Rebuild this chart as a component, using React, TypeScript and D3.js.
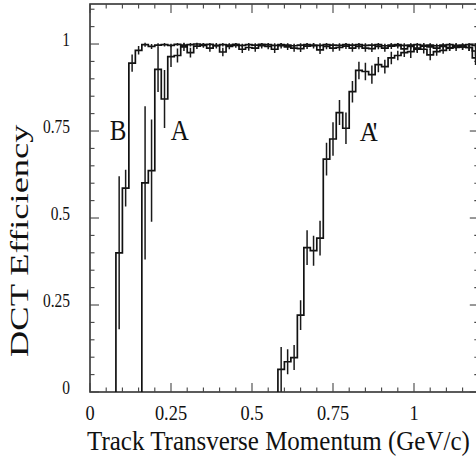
import React from 'react';
import * as d3 from 'd3';

const BIN_WIDTH = 0.02;

// Curve B (bins start at 0.08 GeV/c)
const bStart = 0.08;
const bValues = [
  0.400, 0.586, 0.945, 0.982, 0.998, 0.993, 0.997, 0.998, 0.996, 0.999,
  0.997, 0.998, 1.000, 0.998, 0.999, 0.996, 0.998, 0.997, 0.999, 0.996,
  0.998, 0.997, 0.999, 0.998, 0.996, 0.998, 0.997, 0.995, 0.997, 0.998,
  0.997, 0.996, 0.998, 0.997, 0.996, 0.998, 0.997, 0.998, 0.996, 0.997,
  0.998, 0.995, 0.997, 0.998, 0.996, 0.997, 0.998, 0.996, 0.997, 0.995,
  0.997, 0.998, 0.996, 0.997, 0.998, 0.996,
];
const bErrors = [
  0.220, 0.053, 0.025, 0.012, 0.006, 0.007, 0.005, 0.005, 0.005, 0.004,
  0.005, 0.005, 0.004, 0.005, 0.004, 0.005, 0.005, 0.005, 0.004, 0.005,
  0.005, 0.005, 0.004, 0.005, 0.006, 0.005, 0.005, 0.006, 0.005, 0.005,
  0.005, 0.006, 0.005, 0.005, 0.006, 0.005, 0.005, 0.005, 0.006, 0.005,
  0.005, 0.006, 0.005, 0.005, 0.006, 0.005, 0.005, 0.006, 0.005, 0.006,
  0.005, 0.005, 0.006, 0.005, 0.005, 0.006,
];

// Curve A (bins start at 0.16 GeV/c)
const aStart = 0.16;
const aValues = [
  0.601, 0.636, 0.927, 0.842, 0.964, 0.967, 0.992, 0.975, 0.994, 0.996,
  0.988, 0.995, 0.977, 0.993, 0.996, 0.985, 0.990, 0.988, 0.995, 0.993,
  0.985, 0.995, 0.992, 0.988, 0.987, 0.994, 0.995, 0.983, 0.993, 0.988,
  0.990, 0.994, 0.988, 0.993, 0.988, 0.987, 0.993, 0.988, 0.994, 0.995,
  0.986, 0.993, 0.985, 0.994, 0.992, 0.988, 0.993, 0.990, 0.994, 0.992,
  0.990, 0.980,
];
const aErrors = [
  0.220, 0.147, 0.065, 0.083, 0.030, 0.020, 0.012, 0.014, 0.008, 0.007,
  0.010, 0.008, 0.012, 0.008, 0.007, 0.011, 0.009, 0.010, 0.008, 0.008,
  0.011, 0.008, 0.009, 0.010, 0.010, 0.008, 0.008, 0.012, 0.008, 0.010,
  0.009, 0.008, 0.010, 0.008, 0.010, 0.010, 0.008, 0.010, 0.008, 0.008,
  0.011, 0.008, 0.011, 0.008, 0.009, 0.010, 0.008, 0.009, 0.008, 0.009,
  0.010, 0.014,
];

// Curve A' (bins start at 0.58 GeV/c)
const apStart = 0.58;
const apValues = [
  0.065, 0.087, 0.099, 0.221, 0.415, 0.406, 0.442, 0.669, 0.727, 0.803,
  0.758, 0.863, 0.924, 0.921, 0.912, 0.941, 0.935, 0.960, 0.967, 0.975,
  0.978, 0.988, 0.985, 0.969, 0.978, 0.982, 0.988, 0.990, 0.992, 0.990,
  0.960,
];
const apErrors = [
  0.064, 0.036, 0.036, 0.043, 0.050, 0.043, 0.050, 0.047, 0.048, 0.036,
  0.045, 0.031, 0.025, 0.025, 0.026, 0.022, 0.020, 0.018, 0.014, 0.012,
  0.018, 0.010, 0.012, 0.016, 0.012, 0.010, 0.008, 0.010, 0.008, 0.010,
  0.020,
];

const xTickLabels = ['0', '0.25', '0.5', '0.75', '1'];
const xTickValues = [0, 0.25, 0.5, 0.75, 1];
const yTickLabels = ['0', '0.25', '0.5', '0.75', '1'];
const yTickValues = [0, 0.25, 0.5, 0.75, 1];

const curveLabels = [
  { text: 'B', x: 0.087 },
  { text: 'A', x: 0.277 },
];
const primeLabel = { text: "A'", x: 0.852 };

const W = 476;
const H = 456;
const FONT = '"Liberation Serif", "Times New Roman", Times, serif';

const x = d3.scaleLinear().domain([0, 1.2]).range([90, 478.8]);
const y = d3.scaleLinear().domain([0, 1.115]).range([392, 4]);

function stepPath(start: number, values: number[]) {
  const pts: [number, number][] = [[start, 0]];
  values.forEach((v, i) => {
    const x0 = start + i * BIN_WIDTH;
    pts.push([x0, v]);
    pts.push([x0 + BIN_WIDTH, v]);
  });
  return d3
    .line<[number, number]>()
    .x((d) => x(d[0]))
    .y((d) => y(d[1]))(pts) as string;
}

function ErrorBars({ start, values, errors }: { start: number; values: number[]; errors: number[] }) {
  return (
    <g stroke="#1a1a1a" strokeWidth={1.5}>
      {values.map((v, i) => {
        const xc = x(start + (i + 0.5) * BIN_WIDTH);
        return <line key={i} x1={xc} x2={xc} y1={y(v - errors[i])} y2={y(v + errors[i])} />;
      })}
    </g>
  );
}

export default function App() {
  const minorX = d3.range(0, 1.2001, 0.05);
  const minorY = d3.range(0, 1.1001, 0.05);
  const isMajor = (v: number) => Math.abs(v / 0.25 - Math.round(v / 0.25)) < 1e-6;
  const x0 = x(0);
  const x1 = x(1.2);
  const y0 = y(0);
  const y1 = y(1.115);

  return (
    <svg
      width={W}
      height={H}
      viewBox={`0 0 ${W} ${H}`}
      style={{ position: 'absolute', left: 0, top: 0, display: 'block', background: '#fff' }}
      fontFamily={FONT}
    >
      <defs>
        <clipPath id="plotClip">
          <rect x={x0} y={y1} width={x1 - x0} height={y0 - y1} />
        </clipPath>
      </defs>

      {/* frame */}
      <rect x={x0} y={y1} width={x1 - x0} height={y0 - y1} fill="none" stroke="#333" strokeWidth={1.6} />

      {/* ticks */}
      <g stroke="#444" strokeWidth={1.1}>
        {minorX.map((v, i) => {
          const len = isMajor(v) ? 9 : 4.5;
          return (
            <g key={'x' + i}>
              <line x1={x(v)} x2={x(v)} y1={y0} y2={y0 - len} />
              <line x1={x(v)} x2={x(v)} y1={y1} y2={y1 + len} />
            </g>
          );
        })}
        {minorY.map((v, i) => {
          const len = isMajor(v) ? 9 : 4.5;
          return (
            <g key={'y' + i}>
              <line x1={x0} x2={x0 + len} y1={y(v)} y2={y(v)} />
              <line x1={x1} x2={x1 - len} y1={y(v)} y2={y(v)} />
            </g>
          );
        })}
      </g>

      {/* tick labels */}
      <g fill="#111" fontSize={20}>
        {xTickValues.map((v, i) => (
          <text key={i} transform={`translate(${x(v)},420) scale(0.92,1)`} textAnchor="middle">
            {xTickLabels[i]}
          </text>
        ))}
      </g>
      <g fill="#111" fontSize={18}>
        {yTickValues.map((v, i) => (
          <text key={i} transform={`translate(70,${y(v) + 2}) scale(0.86,1)`} textAnchor="end">
            {yTickLabels[i]}
          </text>
        ))}
      </g>

      {/* axis titles */}
      <text transform="translate(87,450) scale(1,1.1)" fontSize={25} fill="#111">
        Track Transverse Momentum (GeV/c)
      </text>
      <text transform="translate(28,357) rotate(-90) scale(1.43,1)" fontSize={25.5} fill="#111">
        DCT Efficiency
      </text>

      {/* histograms */}
      <g clipPath="url(#plotClip)" fill="none" stroke="#111" strokeWidth={1.7}>
        <path d={stepPath(bStart, bValues)} />
        <path d={stepPath(aStart, aValues)} />
        <path d={stepPath(apStart, apValues)} />
        <ErrorBars start={bStart} values={bValues} errors={bErrors} />
        <ErrorBars start={aStart} values={aValues} errors={aErrors} />
        <ErrorBars start={apStart} values={apValues} errors={apErrors} />
      </g>

      {/* curve labels */}
      <g fill="#111" fontSize={25}>
        {curveLabels.map((c) => (
          <text key={c.text} transform={`translate(${x(c.x)},140) scale(1,1.15)`} textAnchor="middle">
            {c.text}
          </text>
        ))}
        <text
          transform={`translate(${x(primeLabel.x)},140.5) scale(1,1.1)`}
          textAnchor="middle"
          letterSpacing={-5}
        >
          {primeLabel.text}
        </text>
      </g>
    </svg>
  );
}
